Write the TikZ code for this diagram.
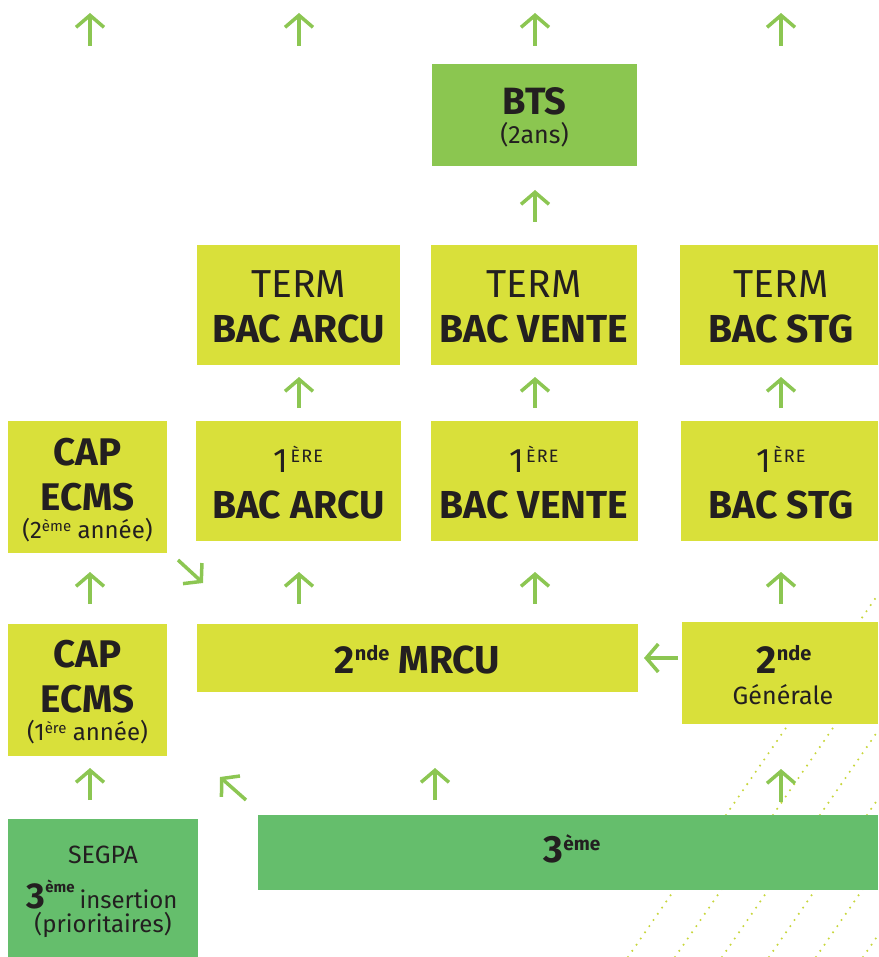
\documentclass[tikz,border=0pt]{standalone}
\usepackage{fontspec}
\setmainfont{Fira Sans}
\usetikzlibrary{arrows.meta}
\definecolor{ybox}{RGB}{217,224,58}
\definecolor{gbts}{RGB}{139,198,80}
\definecolor{gdark}{RGB}{101,190,108}
\definecolor{garr}{RGB}{140,198,82}
\definecolor{gdot}{RGB}{200,214,60}
\definecolor{ink}{RGB}{35,31,32}
\newcommand{\fs}[1]{\fontsize{#1}{#1}\selectfont}
\newcommand{\hi}[3]{\raisebox{#1pt}{\fs{#2}#3}}
\newcommand{\bx}[6]{\node[box,fill=#2,minimum width={(#5-#3)*1pt},minimum height={(#6-#4)*1pt}] (#1) at ({(#3+#5)/2},{(#4+#6)/2}) {};}
\newcommand{\ar}[5]{\coordinate (#1s) at (#2,#3); \coordinate (#1e) at (#4,#5); \draw[arr] (#1s) -- (#1e);}
\begin{document}
\begin{tikzpicture}[x=1pt,y=-1pt,
  box/.style={draw=none,inner sep=0pt,outer sep=0pt,rectangle},
  txt/.style={inner sep=0pt,outer sep=0pt,anchor=base,text=ink},
  arr/.style={draw=garr,line width=3.5pt,-{Straight Barb[length=12pt,width=28pt]}},
  dotl/.style={draw=gdot,line width=2.3pt,line cap=round,dash pattern=on 0pt off 7.5pt}]
\useasboundingbox (0,0) rectangle (878,957);
% dotted diagonal lines
\foreach \i in {0,...,5}{
  \draw[dotl] ({628+47*\i},957) -- (878,{957-(250-47*\i)*1.45});
}
% boxes
\bx{bts}{gbts}{432}{64}{637}{166}
\bx{termA}{ybox}{197}{245}{400}{365}
\bx{termV}{ybox}{431}{245}{637}{365}
\bx{termS}{ybox}{680}{245}{878}{365}
\bx{preA}{ybox}{196}{421}{401}{541}
\bx{preV}{ybox}{431}{421}{638}{541}
\bx{preS}{ybox}{681}{421}{878}{541}
\bx{capB}{ybox}{8}{421}{167}{553}
\bx{capA}{ybox}{8}{624}{167}{756}
\bx{mrcu}{ybox}{197}{624}{638}{692}
\bx{gen}{ybox}{682}{622}{878}{724}
\bx{segpa}{gdark}{8}{819}{198}{957}
\bx{trois}{gdark}{258}{815}{878}{890}
% texts
\node[txt] (btsT1) at (534.5,115) {\fs{38}\bfseries BTS};
\node[txt] (btsT2) at (534.5,144) {\fs{25}(2ans)};
\foreach \n/\c/\w in {tA/298.5/ARCU,tV/534/VENTE,tS/781/STG}{
  \node[txt] (\n1) at (\c,298) {\fs{39}TERM};
  \node[txt] (\n2) at (\c,342) {\fs{39}\bfseries BAC \w};
  \node[txt] (\n3) at (\c,472) {\fs{34}1\hspace{2pt}\hi{10}{18}{\addfontfeature{LetterSpace=6}ÈRE}};
  \node[txt] (\n4) at (\c,518) {\fs{39}\bfseries BAC \w};
}
\node[txt] (cb1) at (87.5,465) {\fs{38.5}\bfseries CAP};
\node[txt] (cb2) at (87.5,510) {\fs{38.5}\bfseries ECMS};
\node[txt] (cb3) at (87.5,538) {\fs{24}(2\hi{7}{15}{ème} année)};
\node[txt] (ca1) at (87.5,667) {\fs{38.5}\bfseries CAP};
\node[txt] (ca2) at (87.5,712) {\fs{38.5}\bfseries ECMS};
\node[txt] (ca3) at (87.5,740) {\fs{24}(1\hi{7}{15}{ère} année)};
\node[txt] (mr) at (417.5,673) {\fs{39}\bfseries 2\hi{13}{20}{nde} MRCU};
\node[txt] (ge1) at (784,673) {\fs{39}\bfseries 2\hi{13}{20}{nde}};
\node[txt] (ge2) at (783,704) {\fs{25}Générale};
\node[txt] (sg1) at (103,863) {\fs{25}SEGPA};
\node[txt] (sg2) at (102,908) {{\fs{36}\bfseries 3}\hi{16}{15}{\bfseries ème}\hspace{5pt}{\fs{24}insertion}};
\node[txt] (sg3) at (103,932) {\fs{24}(prioritaires)};
\node[txt] (tr) at (572,862) {\fs{38}\bfseries 3\hi{12}{19}{ème}};
% arrows
\ar{u1}{90}{46}{90}{13}
\ar{u2}{299}{46}{299}{13}
\ar{u3}{535}{46}{535}{13}
\ar{u4}{781}{46}{781}{13}
\ar{b1}{535}{222}{535}{190}
\ar{t1}{299}{408}{299}{377}
\ar{t2}{535}{408}{535}{377}
\ar{t3}{781}{408}{781}{377}
\ar{p0}{90}{604}{90}{572}
\ar{p1}{299}{604}{299}{572}
\ar{p2}{535}{604}{535}{572}
\ar{p3}{781}{604}{781}{572}
\ar{dg}{178}{560}{203}{583}
\ar{hz}{678}{658}{644}{658}
\ar{l1}{90}{800}{90}{768}
\ar{l2}{435}{800}{435}{768}
\ar{l3}{781}{802}{781}{769}
\ar{ul}{246}{800}{220}{777}
\end{tikzpicture}
\end{document}
